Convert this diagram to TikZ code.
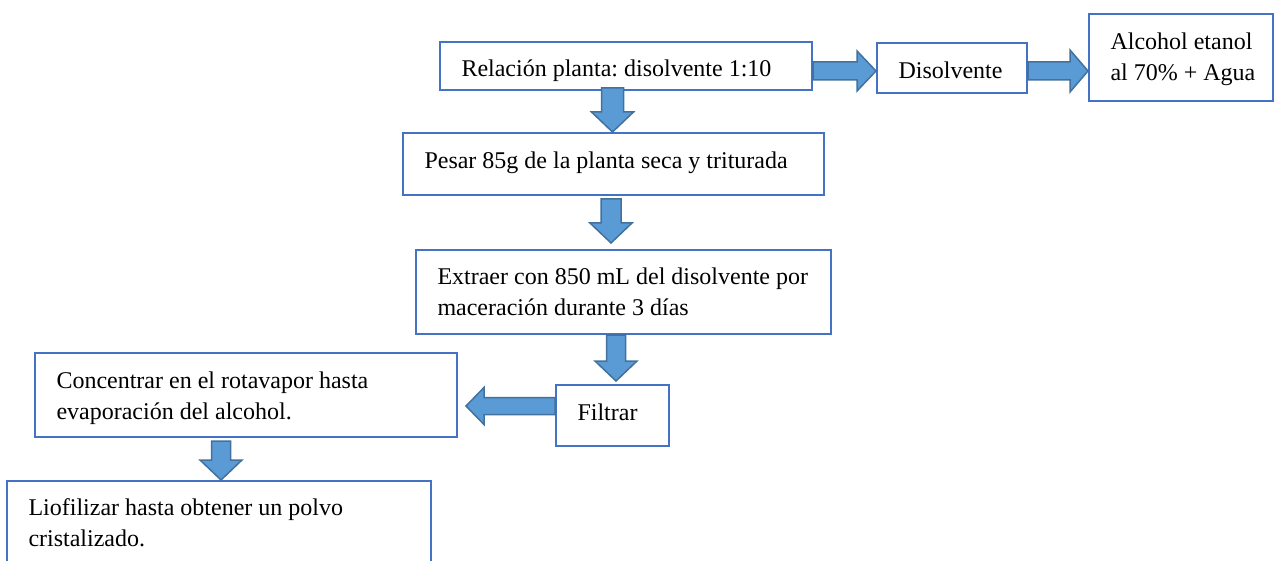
\documentclass[tikz,border=0pt]{standalone}
\usepackage{fontspec}
\setmainfont{Liberation Serif}
\usetikzlibrary{calc}
\definecolor{boxline}{HTML}{4472C4}
\definecolor{arrfill}{HTML}{5B9BD5}
\definecolor{arrline}{HTML}{41719C}
\newcommand{\boxfont}{\fontsize{24}{31}\selectfont\frenchspacing\hyphenpenalty=10000\relax}
\newcommand{\ns}{\spaceskip=0pt\xspaceskip=0pt\relax}
\newcommand{\blockarrow}[5]{%
  \coordinate (ba-h) at ($(#2)!#5!(#1)$);
  \draw[blockarr] ($(#1)!#3!90:(#2)$) -- ($(ba-h)!#3!90:(#2)$) -- ($(ba-h)!#4!90:(#2)$) -- (#2)
    -- ($(ba-h)!#4!-90:(#2)$) -- ($(ba-h)!#3!-90:(#2)$) -- ($(#1)!#3!-90:(#2)$) -- cycle;}
\begin{document}
\begin{tikzpicture}[x=1pt,y=1pt,
  box/.style={draw=boxline, line width=2pt, fill=white, rectangle, inner xsep=21.5pt, inner ysep=0pt,
    align=left, font=\boxfont},
  below base/.style={text height=#1, text depth=0pt},
  above base/.style={text height=0pt, text depth=#1},
  blockarr/.style={draw=arrline, fill=arrfill, line width=1.5pt, line join=miter}]
\useasboundingbox (0,0) rectangle (1274,-561);
% boxes
\node[box, below base=21pt, minimum width=372pt, minimum height=48pt, text width=329pt] (r) at (626,-66) {\ns Relación planta: disolvente 1:10};
\node[box, below base=21pt, minimum width=150pt, minimum height=50pt, text width=107pt] (d) at (952,-68) {\ns Disolvente};
\node[box, above base=15pt, minimum width=184pt, minimum height=87pt, text width=141pt] (al) at (1181,-57.5) {\ns\mbox{Alcohol etanol}\\\mbox{al 70\% + Agua}};
\node[box, below base=10pt, minimum width=421pt, minimum height=62pt, text width=378pt] (p) at (613.5,-164) {\ns Pesar 85g de la planta seca y triturada};
\node[box, above base=15pt, minimum width=415pt, minimum height=84pt, text width=372pt] (e) at (623.5,-292) {\ns Extraer con 850 mL del disolvente por\\maceración durante 3 días};
\node[box, below base=10pt, minimum width=113pt, minimum height=61pt, text width=70pt] (f) at (612.5,-415.5) {\ns Filtrar};
\node[box, above base=13pt, minimum width=422pt, minimum height=84pt, text width=379pt] (c) at (246,-395) {\ns Concentrar en el rotavapor hasta\\evaporación del alcohol.};
\node[box, above base=15pt, minimum width=424pt, minimum height=84pt, text width=381pt] (l) at (219,-523) {\ns Liofilizar hasta obtener un polvo\\cristalizado.};
% arrow end points
\coordinate (a1s) at ([yshift=-5pt]r.east);
\coordinate (a1t) at (a1s -| d.west);
\coordinate (a2s) at ([yshift=-3pt]d.east);
\coordinate (a2t) at (a2s -| al.west);
\coordinate (d1s) at ([xshift=-13.5pt,yshift=3pt]r.south);
\coordinate (d1t) at (d1s |- p.north);
\coordinate (d2s) at ([xshift=-2.5pt,yshift=-3pt]p.south);
\coordinate (d2x) at (d2s |- e.north);
\coordinate (d2t) at ([yshift=6pt]d2x);
\coordinate (d3s) at ([xshift=-7.5pt]e.south);
\coordinate (d3x) at (d3s |- f.north);
\coordinate (d3t) at ([yshift=3pt]d3x);
\coordinate (l1s) at ([yshift=9.5pt]f.west);
\coordinate (l1x) at (l1s -| c.east);
\coordinate (l1t) at ([xshift=8pt]l1x);
\coordinate (d4s) at ([xshift=-25pt,yshift=-3pt]c.south);
\coordinate (d4t) at (d4s |- l.north);
% block arrows
\blockarrow{a1s}{a1t}{9pt}{20pt}{19pt}
\blockarrow{a2s}{a2t}{9pt}{21pt}{18pt}
\blockarrow{d1s}{d1t}{11pt}{21pt}{20pt}
\blockarrow{d2s}{d2t}{10pt}{21pt}{20pt}
\blockarrow{d3s}{d3t}{9.5pt}{21pt}{20pt}
\blockarrow{l1s}{l1t}{8.5pt}{18.5pt}{18pt}
\blockarrow{d4s}{d4t}{9.5pt}{21pt}{20pt}
\end{tikzpicture}
\end{document}
